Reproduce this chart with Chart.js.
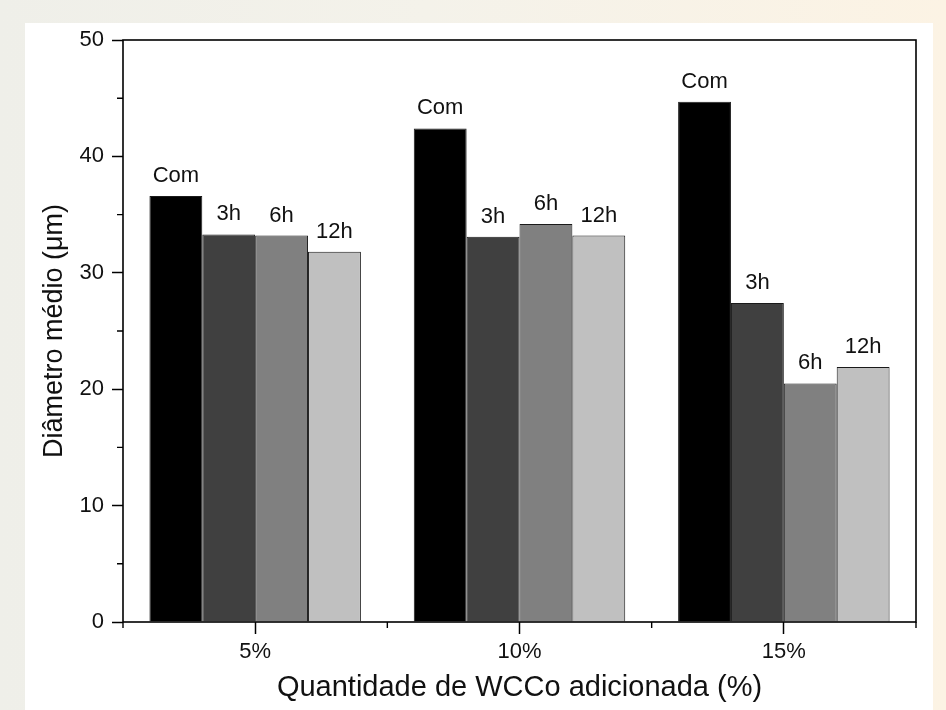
<!DOCTYPE html>
<html>
<head>
<meta charset="utf-8">
<script src="https://cdn.jsdelivr.net/npm/chart.js@4/dist/chart.umd.min.js"></script>
<style>
  html, body { margin: 0; padding: 0; }
  body {
    width: 946px; height: 710px; position: relative; overflow: hidden;
    background: linear-gradient(90deg, #efefe9 0%, #f4f2ea 45%, #fcf3e4 100%);
  }
  #panel { position: absolute; left: 25px; top: 23px; width: 908px; height: 687px; background: #ffffff; }
  #c { position: absolute; left: 0; top: 0; }
</style>
</head>
<body>
<div id="panel"></div>
<canvas id="c" width="946" height="710"></canvas>
<script>
// Mean grain diameter (µm) by WCCo content and milling time
const categories = ['5%', '10%', '15%'];
const seriesNames = ['Com', '3h', '6h', '12h'];
const comValues = [36.6, 42.4, 44.7];
const h3Values  = [33.3, 33.1, 27.4];
const h6Values  = [33.2, 34.2, 20.5];
const h12Values = [31.8, 33.2, 21.9];
const yTicks = [0, 10, 20, 30, 40, 50];

const seriesValues = [comValues, h3Values, h6Values, h12Values];
const fills = ['#000000', '#404040', '#808080', '#c0c0c0'];
const FONT = "'Liberation Sans', Arial, sans-serif";

// Frame around the plot area, minor ticks and the labels above each bar
const decorations = {
  id: 'decorations',
  afterDatasetsDraw(chart) {
    const { ctx, chartArea: a, scales } = chart;
    ctx.save();
    ctx.strokeStyle = '#000';
    ctx.lineWidth = 1.6;
    ctx.strokeRect(a.left, a.top, a.right - a.left, a.bottom - a.top);

    // minor ticks on y (every 5 between majors)
    ctx.lineWidth = 1.4;
    ctx.beginPath();
    for (let v = 5; v < 50; v += 10) {
      const y = scales.y.getPixelForValue(v);
      ctx.moveTo(a.left - 6, y);
      ctx.lineTo(a.left, y);
    }
    // minor ticks on x at category boundaries
    for (let i = 0; i <= categories.length; i++) {
      const x = scales.x.getPixelForValue(i - 0.5);
      ctx.moveTo(x, a.bottom);
      ctx.lineTo(x, a.bottom + 6);
    }
    ctx.stroke();

    // series name above each bar
    ctx.fillStyle = '#111';
    ctx.font = '22px ' + FONT;
    ctx.textAlign = 'center';
    ctx.textBaseline = 'alphabetic';
    chart.data.datasets.forEach((ds, di) => {
      chart.getDatasetMeta(di).data.forEach((bar) => {
        ctx.fillText(ds.label, bar.x, bar.y - 14);
      });
    });
    ctx.restore();
  }
};

new Chart(document.getElementById('c'), {
  type: 'bar',
  data: {
    labels: categories,
    datasets: seriesNames.map((name, i) => ({
      label: name,
      data: seriesValues[i],
      backgroundColor: fills[i],
      borderColor: '#1a1a1a',
      borderWidth: 1,
      categoryPercentage: 0.8,
      barPercentage: 1.0
    }))
  },
  options: {
    responsive: false,
    animation: false,
    layout: { padding: { left: 38, top: 40, right: 30, bottom: 0 } },
    plugins: { legend: { display: false }, tooltip: { enabled: false } },
    scales: {
      x: {
        offset: true,
        grid: { offset: false, drawOnChartArea: false, drawTicks: true, tickLength: 12, tickColor: '#000', tickWidth: 1.5 },
        border: { display: false },
        ticks: { color: '#111', font: { family: FONT, size: 22 }, padding: 5 },
        title: { display: true, text: 'Quantidade de WCCo adicionada (%)', color: '#111',
                 font: { family: FONT, size: 29 }, padding: { top: 0, bottom: 5 } },
        afterFit(scale) { scale.height = 88; }
      },
      y: {
        min: 0, max: 50,
        afterBuildTicks(scale) { scale.ticks = yTicks.map(v => ({ value: v })); },
        grid: { drawOnChartArea: false, drawTicks: true, tickLength: 11, tickColor: '#000', tickWidth: 1.5 },
        border: { display: false },
        ticks: { color: '#111', font: { family: FONT, size: 22 }, padding: 8 },
        title: { display: true, text: 'Diâmetro médio (μm)', color: '#111',
                 font: { family: FONT, size: 27 }, padding: { top: 0, bottom: 0 } },
        afterFit(scale) { scale.width = 85; }
      }
    }
  },
  plugins: [decorations]
});
</script>
</body>
</html>
